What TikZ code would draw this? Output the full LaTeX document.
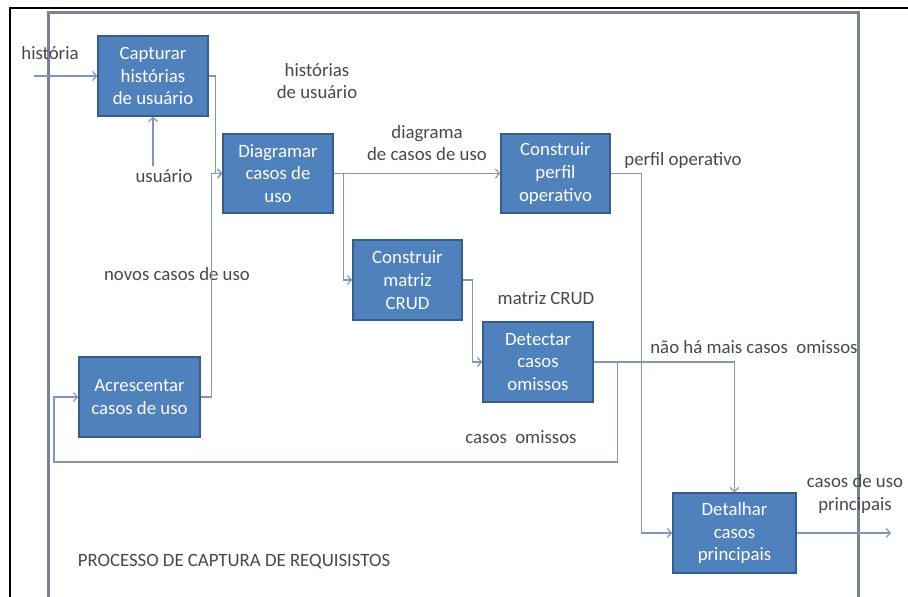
\documentclass[tikz,border=0pt]{standalone}
\usepackage{fontspec}
\setmainfont{Carlito}
\usetikzlibrary{arrows.meta}
\definecolor{boxfill}{RGB}{79,129,189}
\definecolor{boxline}{RGB}{56,93,138}
\definecolor{connc}{RGB}{128,150,188}
\definecolor{framec}{RGB}{120,132,150}
\definecolor{labelc}{RGB}{72,72,72}
\begin{document}
\begin{tikzpicture}[x=1pt,y=-1pt,
  txt/.style={font=\fontsize{18.8}{22.7}\selectfont},
  proc/.style={txt,draw=boxline,line width=1.5pt,fill=boxfill,text=white,align=center,inner sep=0pt},
  lab/.style={txt,text=labelc,align=center,inner sep=0pt},
  conn/.style={draw=connc,line width=1.2pt,-{Straight Barb[length=4pt,width=9pt]}}]
\useasboundingbox (0,0) rectangle (908,597);
% frames
\draw[black,line width=1.5pt] (10,597) -- (10,8) -- (908,8);
\draw[framec,line width=3pt] (48,600) -- (48,12) -- (858,12) -- (858,600);
% boxes
\node[proc,minimum width=110pt,minimum height=80pt] (cap) at (153,76) {Capturar\\histórias\\de usuário};
\node[proc,minimum width=110pt,minimum height=79pt] (diag) at (278,173.5) {Diagramar\\casos de\\uso};
\node[proc,minimum width=109pt,minimum height=79pt] (perf) at (555.5,173.5) {Construir\\perfil\\operativo};
\node[proc,minimum width=109pt,minimum height=80pt] (mat) at (407.5,280) {Construir\\matriz\\CRUD};
\node[proc,minimum width=110pt,minimum height=80pt] (detc) at (538,362) {Detectar\\casos\\omissos};
\node[proc,minimum width=121pt,minimum height=80pt] (acr) at (139.5,397) {Acrescentar\\casos de uso};
\node[proc,minimum width=123pt,minimum height=80pt] (detl) at (734.5,533) {Detalhar\\casos\\principais};
% labels
\node[lab] (lhist) at (50,53) {história};
\node[lab] (lhus) at (317,81) {histórias\\de usuário};
\node[lab] (lusu) at (164,176) {usuário};
\node[lab] (ldiag) at (427,143) {diagrama\\de casos de uso};
\node[lab] (lperf) at (683,160) {perfil operativo};
\node[lab] (lnov) at (177,274) {novos casos de uso};
\node[lab] (lmat) at (546,298) {matriz CRUD};
\node[lab] (lnao) at (754,347) {não há mais casos\ \ omissos};
\node[lab] (lomi) at (521,437) {casos\ \ omissos};
\node[lab] (lpri) at (855,494) {casos de uso\\principais};
\node[lab] (ltit) at (234,562) {PROCESSO DE CAPTURA DE REQUISISTOS};
% free ends
\coordinate (hin) at (34,76);
\coordinate (uin) at (153,166);
\coordinate (loop) at (54,462);
\coordinate (out) at (891,533);
% connectors
\draw[conn] (hin) -- (cap.west);
\draw[conn] (uin) -- (cap.south);
\draw[conn] (cap.east) -- ++(7,0) |- (diag.west);
\draw[conn] (acr.east) -- ++(11,0) |- (diag.west);
\draw[conn] (diag.east) -- (perf.west);
\draw[conn] (diag.east) -- ++(10,0) |- (mat.west);
\draw[conn] (perf.east) -- ++(31,0) |- (detl.west);
\draw[conn] (mat.east) -- ++(10,0) |- (detc.west);
\draw[conn] (detc.east) -| (detl.north);
\draw[conn] (detc.east) -- ++(24,0) |- (loop) |- (acr.west);
\draw[conn] (detl.east) -- (out);
\end{tikzpicture}
\end{document}
